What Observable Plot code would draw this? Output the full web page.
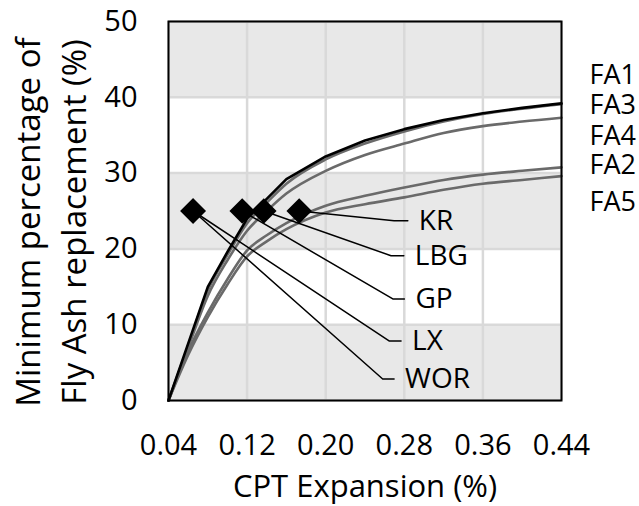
<!DOCTYPE html>
<html>
<head>
<meta charset="utf-8">
<script src="https://cdn.jsdelivr.net/npm/d3@7"></script>
<script src="https://cdn.jsdelivr.net/npm/@observablehq/plot@0.6"></script>
<style>
  html, body { margin: 0; padding: 0; background: #fff; }
</style>
</head>
<body>
<div id="chart"></div>
<script>
// Axes
const xDomain = [0.04, 0.44];
const yDomain = [0, 50];
const xTicks = [0.04, 0.12, 0.20, 0.28, 0.36, 0.44];
const yTicks = [0, 10, 20, 30, 40, 50];
const bandLow = [0, 20, 40];
const bandHigh = [10, 30, 50];

// Curves (CPT expansion vs minimum fly ash %)
const cptX = [0.04, 0.06, 0.08, 0.10, 0.12, 0.14, 0.16, 0.20, 0.24, 0.28, 0.32, 0.36, 0.40, 0.44];
const FA1 = [0, 7.5, 15.0, 19.6, 24.0, 26.6, 29.2, 32.2, 34.3, 35.8, 37.0, 37.9, 38.6, 39.2];
const FA3 = [0, 7.2, 14.5, 19.2, 23.4, 26.1, 28.6, 31.8, 33.9, 35.5, 36.8, 37.8, 38.5, 39.1];
const FA4 = [0, 7.0, 13.8, 18.5, 22.4, 25.0, 27.3, 30.3, 32.4, 33.9, 35.3, 36.2, 36.8, 37.3];
const FA2 = [0, 6.5, 11.6, 16.0, 19.8, 21.8, 23.4, 25.7, 27.0, 28.1, 29.1, 29.8, 30.3, 30.75];
const FA5 = [0, 6.0, 11.0, 15.3, 19.0, 21.0, 22.6, 24.8, 25.9, 26.8, 27.8, 28.6, 29.1, 29.6];

// Series label column on the right
const faNames = ["FA1", "FA3", "FA4", "FA2", "FA5"];
const faLabelY = [42.9, 38.9, 34.9, 31.0, 26.1];

// Aggregate points and leader lines
const ptName = ["KR", "LBG", "GP", "LX", "WOR"];
const ptX = [0.173, 0.137, 0.115, 0.065, 0.065];
const ptY = [25, 25, 25, 25, 25];
const elbowX = [0.2696, 0.2665, 0.2683, 0.2645, 0.258];
const elbowY = [23.7, 19.1, 13.4, 7.86, 2.84];
const endX = [0.2836, 0.2795, 0.2801, 0.2767, 0.2696];

const seriesMap = {FA1, FA2, FA3, FA4, FA5};
const rows = [];
for (const [name, vals] of Object.entries(seriesMap)) {
  cptX.forEach((x, i) => rows.push({series: name, x, y: vals[i]}));
}
const blackRows = rows.filter(d => d.series === "FA1");
const grayRows = rows.filter(d => d.series !== "FA1");

const bands = bandLow.map((lo, i) => ({lo, hi: bandHigh[i]}));

const leaders = [];
ptName.forEach((n, i) => {
  leaders.push({name: n, x: ptX[i], y: ptY[i]});
  leaders.push({name: n, x: elbowX[i], y: elbowY[i]});
  leaders.push({name: n, x: endX[i], y: elbowY[i]});
});
const ptLabels = ptName.map((n, i) => ({name: n, x: endX[i], y: elbowY[i]}));
const points = ptName.map((n, i) => ({name: n, x: ptX[i], y: ptY[i]}));
const faLabels = faNames.map((n, i) => ({name: n, x: xDomain[1], y: faLabelY[i]}));

const fmt = d3.format(".2f");

const chart = Plot.plot({
  width: 639,
  height: 506,
  marginLeft: 168,
  marginRight: 78,
  marginTop: 21,
  marginBottom: 106,
  x: {domain: xDomain, label: null},
  y: {domain: yDomain, label: null},
  style: {fontFamily: "Open Sans", fontSize: "28px", color: "#000", background: "#fff", overflow: "visible"},
  marks: [
    Plot.rect(bands, {x1: () => xDomain[0], x2: () => xDomain[1], y1: "lo", y2: "hi", fill: "#e8e8e8"}),
    Plot.gridX(xTicks, {stroke: "#d9d9d9", strokeOpacity: 1, strokeWidth: 2.5}),
    Plot.gridY(yTicks, {stroke: "#d9d9d9", strokeOpacity: 1, strokeWidth: 2.5}),
    Plot.axisX(xTicks, {tickSize: 0, tickPadding: 34, tickFormat: fmt, fontSize: 29, label: null}),
    Plot.axisY(yTicks, {tickSize: 0, tickPadding: 31, fontSize: 29, label: null}),
    Plot.line(grayRows, {x: "x", y: "y", z: "series", stroke: "#6a6a6a", strokeWidth: 2.6, curve: "monotone-x"}),
    Plot.line(blackRows, {x: "x", y: "y", stroke: "#000", strokeWidth: 2.6, curve: "linear"}),
    Plot.line(leaders, {x: "x", y: "y", z: "name", stroke: "#000", strokeWidth: 1.5, curve: "linear"}),
    Plot.dot(points, {x: "x", y: "y", symbol: "diamond2", r: 11.5, fill: "#000", stroke: "none"}),
    Plot.text(ptLabels, {x: "x", y: "y", text: "name", dx: 11, textAnchor: "start", lineAnchor: "middle", fontSize: 28, fill: "#000"}),
    Plot.text(faLabels, {x: "x", y: "y", text: "name", dx: 28, textAnchor: "start", lineAnchor: "middle", fontSize: 27, fill: "#000"}),
    Plot.frame({stroke: "#000", strokeWidth: 2}),
    Plot.text(["CPT Expansion (%)"], {frameAnchor: "bottom", text: d => d, dy: 87, textAnchor: "middle", lineAnchor: "middle", fontSize: 31, fill: "#000"}),
    Plot.text(["Minimum percentage of\nFly Ash replacement (%)"], {frameAnchor: "left", text: d => d, rotate: -90, dx: -120, dy: 11, textAnchor: "middle", lineAnchor: "middle", lineHeight: 1.38, fontSize: 33, fill: "#000"})
  ]
});
document.getElementById("chart").appendChild(chart);
</script>
</body>
</html>
